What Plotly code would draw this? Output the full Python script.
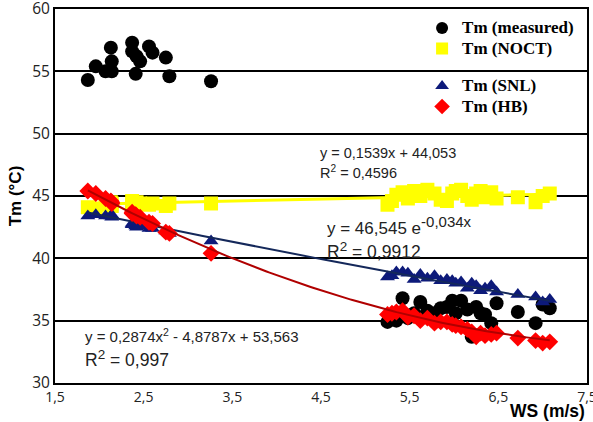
import numpy as np
import plotly.graph_objects as go

# Wind speed (m/s) for each sample
ws = [1.87, 1.96, 2.07, 2.13, 2.14, 2.14, 2.37, 2.37, 2.41, 2.42, 2.46, 2.56, 2.60, 2.75, 2.79, 3.26,
      5.25, 5.30, 5.35, 5.42, 5.48, 5.55, 5.62, 5.70, 5.78, 5.85, 5.92, 5.98, 6.02, 6.08, 6.15,
      6.20, 6.25, 6.30, 6.35, 6.42, 6.48, 6.72, 6.92, 7.00, 7.08]

# Module temperatures (°C)
tm_measured = [54.3, 55.4, 55.0, 56.9, 55.8, 55.0, 57.3, 56.6, 54.8, 56.2, 55.8, 57.0, 56.5, 56.1, 54.6, 54.2,
               34.9, 35.3, 35.0, 36.8, 35.2, 35.6, 36.5, 35.8, 35.6, 36.0, 36.1, 36.6, 35.6, 36.6, 35.9,
               33.7, 36.1, 35.6, 35.5, 34.8, 36.4, 35.7, 34.8, 36.3, 36.0]
tm_noct = [44.1, 44.0, 44.3, 44.5, 44.2, 44.4, 44.6, 44.3, 44.2, 44.5, 44.4, 44.3, 44.4, 44.2, 44.4, 44.4,
           44.3, 44.6, 45.1, 45.3, 44.8, 45.4, 45.0, 45.5, 45.2, 44.7, 44.6, 45.2, 45.4, 45.5, 45.0,
           44.7, 45.2, 45.4, 44.9, 45.3, 44.8, 44.9, 44.5, 45.0, 45.2]
tm_snl = [43.4, 43.5, 43.4, 43.4, 43.5, 43.3, 42.8, 42.7, 42.6, 42.5, 42.6, 42.4, 42.4, 42.2, 42.0, 41.4,
          38.5, 38.6, 38.9, 38.9, 38.8, 38.3, 38.7, 38.4, 38.6, 38.2, 38.3, 38.2, 38.0, 38.1, 37.6,
          38.0, 37.8, 37.4, 37.6, 37.8, 37.3, 37.1, 36.9, 36.5, 36.7]
tm_hb = [45.4, 45.2, 44.8, 44.6, 44.5, 44.4, 43.7, 43.6, 43.5, 43.4, 43.3, 42.9, 42.8, 42.1, 42.0, 40.4,
         35.5, 35.6, 35.7, 35.8, 35.3, 35.4, 35.0, 35.2, 34.8, 34.9, 34.9, 34.7, 34.6, 34.5, 34.3,
         34.1, 33.7, 34.0, 33.8, 33.9, 34.0, 33.6, 33.4, 33.2, 33.3]

# Trendline coefficients
noct_lin = (0.1539, 44.053)            # y = a x + b
snl_exp = (46.545, -0.034)             # y = A e^(k x)
hb_poly = (0.2874, -4.8787, 53.563)    # y = a x^2 + b x + c

xs = np.linspace(min(ws), max(ws), 200)
noct_fit = noct_lin[0] * xs + noct_lin[1]
snl_fit = snl_exp[0] * np.exp(snl_exp[1] * xs)
hb_fit = hb_poly[0] * xs ** 2 + hb_poly[1] * xs + hb_poly[2]

SANS = "Liberation Sans"
TICK = "Open Sans"
SERIF = "Liberation Serif"


def legend_label(text):
    return f'<span style="font-size:17px"><b>{text}</b></span>'


fig = go.Figure()

fig.add_trace(go.Scatter(x=ws, y=tm_measured, mode="markers", name=legend_label("Tm (measured)"),
                         marker=dict(symbol="circle", size=14, color="black"), legend="legend"))
fig.add_trace(go.Scatter(x=xs, y=noct_fit, mode="lines", showlegend=False,
                         line=dict(color="#ffff00", width=3)))
fig.add_trace(go.Scatter(x=ws, y=tm_noct, mode="markers", name=legend_label("Tm (NOCT)"),
                         marker=dict(symbol="square", size=14, color="#ffff00"), legend="legend"))
fig.add_trace(go.Scatter(x=ws, y=tm_snl, mode="markers", name=legend_label("Tm (SNL)"),
                         marker=dict(symbol="triangle-up", size=13, color="#0d1a7a"), legend="legend2"))
fig.add_trace(go.Scatter(x=xs, y=snl_fit, mode="lines", showlegend=False,
                         line=dict(color="#14285a", width=2)))
fig.add_trace(go.Scatter(x=ws, y=tm_hb, mode="markers", name=legend_label("Tm (HB)"),
                         marker=dict(symbol="diamond", size=13, color="#ff0000"), legend="legend2"))
fig.add_trace(go.Scatter(x=xs, y=hb_fit, mode="lines", showlegend=False,
                         line=dict(color="#b00000", width=2)))


def sup(text, size):
    return f'<sup><span style="font-size:{size}px">{text}</span></sup>'


annotations = [
    (4.465, 48.48, "y = 0,1539x + 44,053", 14.5),
    (4.465, 46.96, "R<sup>2</sup> = 0,4596", 14.5),
    (4.544, 42.64, "y = 46,545 e" + sup("-0,034x", 15), 17),
    (4.544, 40.65, "R" + sup("2", 13.5) + " = 0,9912", 17.5),
    (1.816, 33.84, "y = 0,2874x<sup>2</sup> - 4,8787x + 53,563", 15),
    (1.816, 32.0, "R" + sup("2", 13.5) + " = 0,997", 17.5),
]
for x, y, text, size in annotations:
    fig.add_annotation(xref="x", yref="y", xanchor="left", yanchor="middle", showarrow=False,
                       x=x, y=y, text=text,
                       font=dict(family=SANS, color="#222222", size=size))

fig.add_annotation(xref="paper", yref="paper", x=1.0, y=-0.074, xanchor="right", yanchor="middle",
                   showarrow=False, text="<b>WS (m/s)</b>",
                   font=dict(family=SANS, size=17.5, color="black"))

legend_style = dict(xanchor="left", yanchor="top", bgcolor="rgba(0,0,0,0)",
                    font=dict(family=SERIF, size=13.5, color="black"), tracegroupgap=0,
                    itemwidth=30, itemsizing="constant")

fig.update_layout(
    width=593, height=422,
    margin=dict(l=55, r=6, t=9, b=39),
    paper_bgcolor="white", plot_bgcolor="white",
    separators=",.",
    font=dict(family=SANS, color="black"),
    legend=dict(x=0.69, y=0.99, **legend_style),
    legend2=dict(x=0.69, y=0.835, **legend_style),
    xaxis=dict(range=[1.5, 7.5], tick0=1.5, dtick=1, tickformat=".1f", showgrid=False,
               showline=True, linecolor="black", linewidth=2, mirror=True, zeroline=False,
               ticks="", ticklabeloverflow="allow", automargin=False,
               tickfont=dict(family=TICK, size=14, color="#222222")),
    yaxis=dict(range=[30, 60], dtick=5, showgrid=True, gridcolor="black", gridwidth=2,
               showline=True, linecolor="black", linewidth=2, mirror=True, zeroline=False,
               ticks="", ticklabeloverflow="allow", automargin=False,
               tickfont=dict(family=TICK, size=15.5, color="#222222"),
               title=dict(text="<b>Tm (°C)</b>", font=dict(family=SANS, size=17, color="black"),
                          standoff=6)),
)

fig.write_html("out.html")
